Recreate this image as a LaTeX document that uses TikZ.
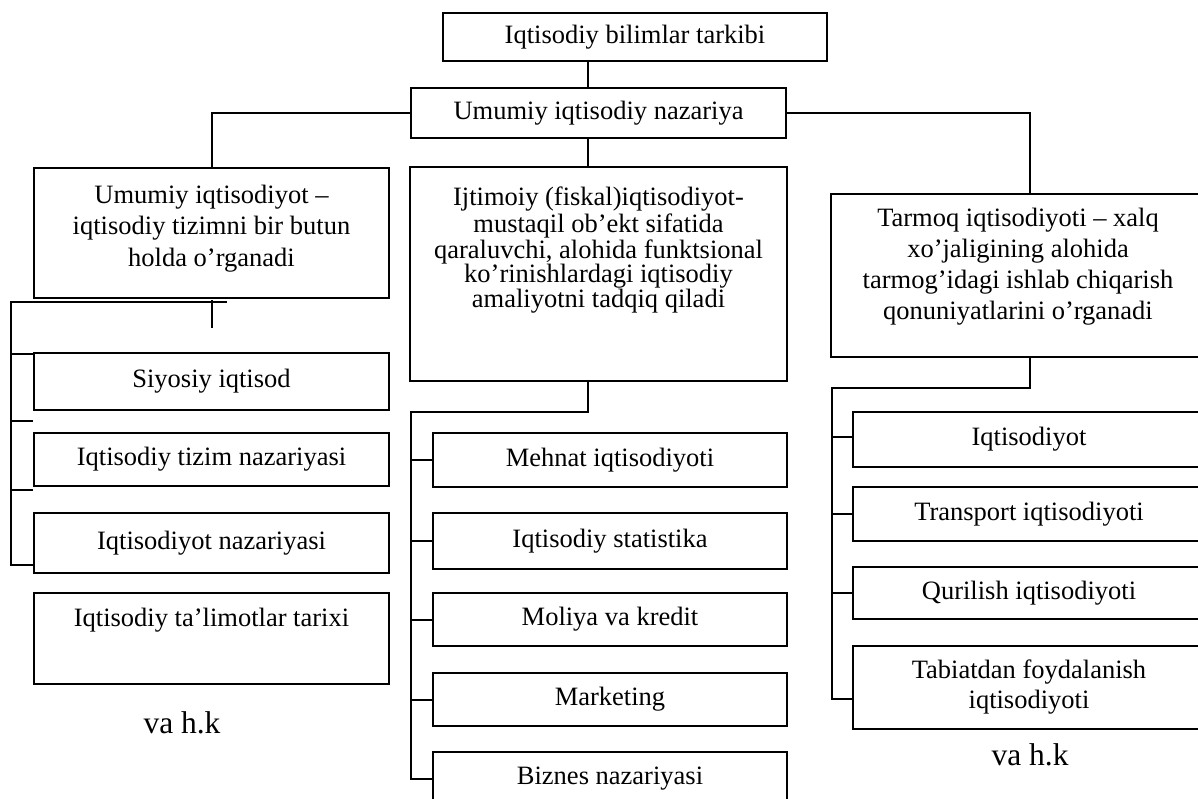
\documentclass[tikz,border=0pt]{standalone}
\usepackage{fontspec}
\setmainfont{Liberation Serif}
\begin{document}
\begin{tikzpicture}[x=0.5pt,y=-0.5pt,
  box/.style={draw, line width=1pt, inner sep=0pt, font=\fontsize{13.25}{15.75}\selectfont, align=center},
  bx/.style 2 args={minimum width=#1, minimum height=#2},
  txt/.style={inner sep=0pt, font=\fontsize{13.25}{15.75}\selectfont, align=center},
  etc/.style={inner sep=0pt, font=\fontsize{15.75}{18}\selectfont},
  ln/.style={line width=1pt}]
\useasboundingbox (0,0) rectangle (1198,798);
\clip (0,0) rectangle (1198,798);

% top level
\node[box, bx={192pt}{24pt}] (top) at (635,37) {Iqtisodiy bilimlar tarkibi};
\node[box, bx={187.5pt}{25pt}] (uin) at (598.5,113) {Umumiy iqtisodiy nazariya};

% three main boxes
\node[box, bx={177.5pt}{65pt}] (ue) at (211.5,233) {};
\node[txt] (uet) at (211.5,228.5) {Umumiy iqtisodiyot –\\iqtisodiy tizimni bir butun\\holda o’rganadi};
\node[box, bx={188.5pt}{107pt}] (mid) at (598.5,274) {};
\node[txt, font=\fontsize{13.25}{12.1}\selectfont] (midt) at (598.5,250) {Ijtimoiy (fiskal)iqtisodiyot-\\mustaqil ob’ekt sifatida\\qaraluvchi, alohida funktsional\\ko’rinishlardagi iqtisodiy\\amaliyotni tadqiq qiladi};
\node[box, bx={187pt}{81.5pt}] (tar) at (1018,275.5) {};
\node[txt, font=\fontsize{13.25}{15.55}\selectfont] (tart) at (1018,266.5) {Tarmoq iqtisodiyoti – xalq\\xo’jaligining alohida\\tarmog’idagi ishlab chiqarish\\qonuniyatlarini o’rganadi};

% left column
\node[box, bx={177.5pt}{28.5pt}] (siy) at (211.5,381.5) {Siyosiy iqtisod};
\node[box, bx={177.5pt}{26.5pt}] (tiz) at (211.5,459.5) {Iqtisodiy tizim nazariyasi};
\node[box, bx={177.5pt}{30pt}] (naz) at (211.5,543) {Iqtisodiyot nazariyasi};
\node[box, bx={177.5pt}{45.5pt}] (tarix) at (211.5,638.5) {};
\node[txt] (tarixt) at (211.5,620) {Iqtisodiy ta’limotlar tarixi};
\node[etc] (etcL) at (182,723) {va h.k};

% middle column
\node[box, bx={177pt}{27pt}] (meh) at (610,460) {Mehnat iqtisodiyoti};
\node[box, bx={177pt}{28pt}] (stat) at (610,541) {Iqtisodiy statistika};
\node[box, bx={177pt}{26.5pt}] (mol) at (610,619.5) {Moliya va kredit};
\node[box, bx={177pt}{26.5pt}] (mar) at (610,699.5) {Marketing};
\node[box, bx={177pt}{27pt}] (biz) at (610,779) {Biznes nazariyasi};

% right column
\node[box, bx={176pt}{27.5pt}] (iqt) at (1029,439.5) {Iqtisodiyot};
\node[box, bx={176pt}{27pt}] (tra) at (1029,514) {Transport iqtisodiyoti};
\node[box, bx={176pt}{26pt}] (qur) at (1029,593) {Qurilish iqtisodiyoti};
\node[box, bx={176pt}{41.5pt}, font=\fontsize{13.25}{15}\selectfont] (tab) at (1029,687.5) {Tabiatdan foydalanish\\iqtisodiyoti};
\node[etc] (etcR) at (1030,755) {va h.k};

% connectors, upper part
\coordinate (c1) at (588,0);
\coordinate (c2) at (1029.5,0);
\draw[ln] (top.south -| c1) -- (uin.north -| c1);
\draw[ln] (uin.west) -| (ue.north);
\draw[ln] (uin.east) -| (tar.north -| c2);
\draw[ln] (uin.south -| c1) -- (mid.north -| c1);

% left bus
\coordinate (lb) at (11,301.7);
\coordinate (lbe) at (227,301.7);
\coordinate (ls) at (212,300);
\coordinate (lse) at (212,328);
\coordinate (lb1) at (11,354);
\coordinate (lb2) at (11,421);
\coordinate (lb3) at (11,490);
\coordinate (lb4) at (11,565);
\draw[ln] (lbe) -- (lb) -- (lb4) -- (lb4 -| naz.west);
\draw[ln] (ls) -- (lse);
\draw[ln] (lb1) -- (lb1 -| siy.west);
\draw[ln] (lb2) -- (lb2 -| tiz.west);
\draw[ln] (lb3) -- (lb3 -| naz.west);

% middle bus
\coordinate (mb) at (411,412.3);
\draw[ln] (mid.south -| c1) |- (mb) -- (mb |- biz.west) -- (biz.west);
\draw[ln] (meh.west -| mb) -- (meh.west);
\draw[ln] (stat.west -| mb) -- (stat.west);
\draw[ln] (mol.west -| mb) -- (mol.west);
\draw[ln] (mar.west -| mb) -- (mar.west);

% right bus
\coordinate (rb) at (831.5,387.5);
\coordinate (rb1) at (831.5,437.3);
\coordinate (rb4) at (831.5,699.3);
\draw[ln] (tar.south -| c2) |- (rb) -- (rb4) -- (rb4 -| tab.west);
\draw[ln] (rb1) -- (rb1 -| iqt.west);
\draw[ln] (rb |- tra.west) -- (tra.west);
\draw[ln] (rb |- qur.west) -- (qur.west);
\end{tikzpicture}
\end{document}
